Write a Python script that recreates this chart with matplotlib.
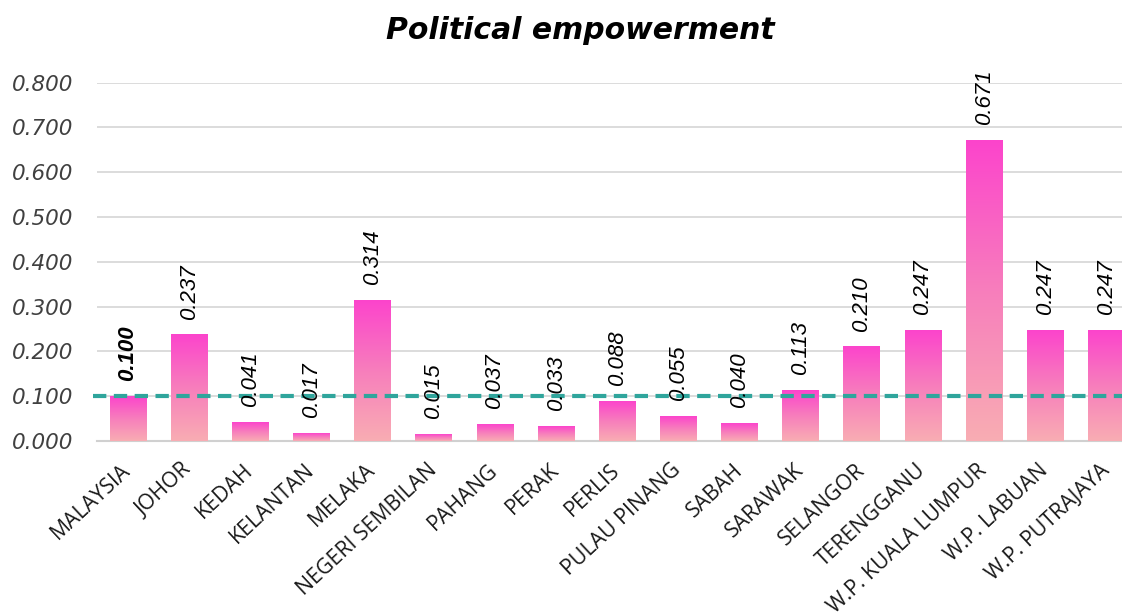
import matplotlib
matplotlib.use('Agg')
import matplotlib.pyplot as plt
import numpy as np
from matplotlib.colors import LinearSegmentedColormap

# data
states = ['MALAYSIA', 'JOHOR', 'KEDAH', 'KELANTAN', 'MELAKA', 'NEGERI SEMBILAN',
          'PAHANG', 'PERAK', 'PERLIS', 'PULAU PINANG', 'SABAH', 'SARAWAK',
          'SELANGOR', 'TERENGGANU', 'W.P. KUALA LUMPUR', 'W.P. LABUAN',
          'W.P. PUTRAJAYA']
values = [0.100, 0.237, 0.041, 0.017, 0.314, 0.015, 0.037, 0.033, 0.088,
          0.055, 0.040, 0.113, 0.210, 0.247, 0.671, 0.247, 0.247]
yticks = [0.0, 0.1, 0.2, 0.3, 0.4, 0.5, 0.6, 0.7, 0.8]
national = values[0]

fig = plt.figure(figsize=(11.22, 6.13), dpi=100)
ax = fig.add_axes([0.0868, 0.2806, 0.9266, 0.5847])

x = np.arange(len(states))
w = 0.6

# gradient bars: light pink at the bottom, magenta at the top
cmap = LinearSegmentedColormap.from_list('pinkgrad', ['#F9ADB3', '#F77EBC', '#FC44CC'])
grad = np.linspace(0, 1, 256).reshape(-1, 1)
bars = ax.bar(x, values, width=w, color='none', edgecolor='none', zorder=3)
for b in bars:
    x0, h = b.get_x(), b.get_height()
    ax.imshow(grad, cmap=cmap, origin='lower', aspect='auto',
              extent=[x0, x0 + b.get_width(), 0, h], zorder=3)

# value labels
for i, v in enumerate(values):
    ax.annotate('%.3f' % v, (x[i], v), xytext=(0, 11), textcoords='offset points',
                rotation=90, ha='center', va='bottom', fontsize=16,
                family='Liberation Sans', style='italic',
                weight='bold' if i == 0 else 'normal', color='black', zorder=5)

# national average reference line
ax.axhline(national, xmin=-0.004, xmax=1, color='#2FA59C', lw=3, ls=(0, (3.2, 1.8)),
           zorder=4, clip_on=False)

ax.set_xlim(-0.5, len(states) - 0.5)
ax.set_ylim(0, 0.8)
ax.set_yticks(yticks)
ax.set_yticklabels(['%.3f' % t for t in yticks], fontsize=15.5, style='italic',
                   color='#404040', family='DejaVu Sans')
ax.set_xticks(x)
ax.set_xticklabels(states, rotation=43, ha='right', va='center',
                   rotation_mode='anchor', fontsize=15.3, family='Open Sans',
                   color='#1a1a1a')
ax.tick_params(axis='both', length=0)
ax.tick_params(axis='y', pad=17)
ax.tick_params(axis='x', pad=19)

ax.grid(axis='y', color='#D9D9D9', lw=1.3, zorder=0)
ax.set_axisbelow(True)
for s in ['top', 'right', 'left']:
    ax.spines[s].set_visible(False)
ax.spines['bottom'].set_color('#D0D0D0')
ax.spines['bottom'].set_linewidth(1.5)

fig.text(0.517, 0.951, 'Political empowerment', ha='center', va='center',
         fontsize=21.5, weight='bold', style='italic', family='DejaVu Sans')

fig.savefig('out.png', dpi=100)
